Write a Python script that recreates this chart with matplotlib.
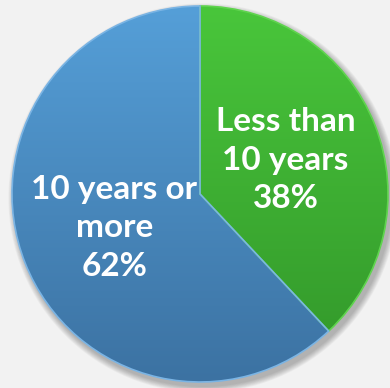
import matplotlib.pyplot as plt
import numpy as np
from matplotlib.colors import LinearSegmentedColormap
from matplotlib.patches import Circle

categories = ["Less than\n10 years", "10 years or\nmore"]
values = [38, 62]
top_colors = ["#49C63B", "#559FD8"]
bottom_colors = ["#32962A", "#3C72A2"]
edge_colors = ["#5FD44E", "#7AB4E4"]

W, H = 390, 388
fig = plt.figure(figsize=(W / 100, H / 100), dpi=100)
fig.patch.set_facecolor("#F2F2F2")
ax = fig.add_axes([0, 0, 1, 1])

cx, cy, r = 200, 194, 188

# soft shadow to the lower right
for i in range(8):
    ax.add_patch(Circle((cx + 3, cy - 4), r + 1 + i * 0.8, color="#000000",
                        alpha=0.035, lw=0, zorder=0))

labels = [f"{c}\n{v}%" for c, v in zip(categories, values)]
wedges, texts = ax.pie(values, labels=labels, startangle=90, counterclock=False,
                       center=(cx, cy), radius=r, labeldistance=0.49,
                       colors=top_colors, frame=True,
                       wedgeprops=dict(linewidth=1.2),
                       textprops=dict(color="white", fontsize=24, fontweight="bold",
                                      family=["Lato", "DejaVu Sans"]))
ax.set_xlim(0, W)
ax.set_ylim(0, H)
ax.set_aspect("equal")
ax.axis("off")

# vertical gradient inside each wedge
grad = np.linspace(0, 1, 256).reshape(-1, 1)
for w, tc, bc, ec in zip(wedges, top_colors, bottom_colors, edge_colors):
    cmap = LinearSegmentedColormap.from_list("g", [bc, tc])
    im = ax.imshow(grad, cmap=cmap, origin="lower", aspect="auto",
                   extent=[cx - r, cx + r, cy - r, cy + r], zorder=1)
    im.set_clip_path(w)
    w.set_edgecolor(ec)
    w.set_zorder(2)
    w.set_facecolor("none")

for t in texts:
    t.set_ha("center")
    t.set_va("center")
    t.set_multialignment("center")
    t.set_linespacing(1.4)
    t.set_zorder(3)

plt.savefig("out.png", dpi=100, facecolor=fig.get_facecolor())
plt.close()
